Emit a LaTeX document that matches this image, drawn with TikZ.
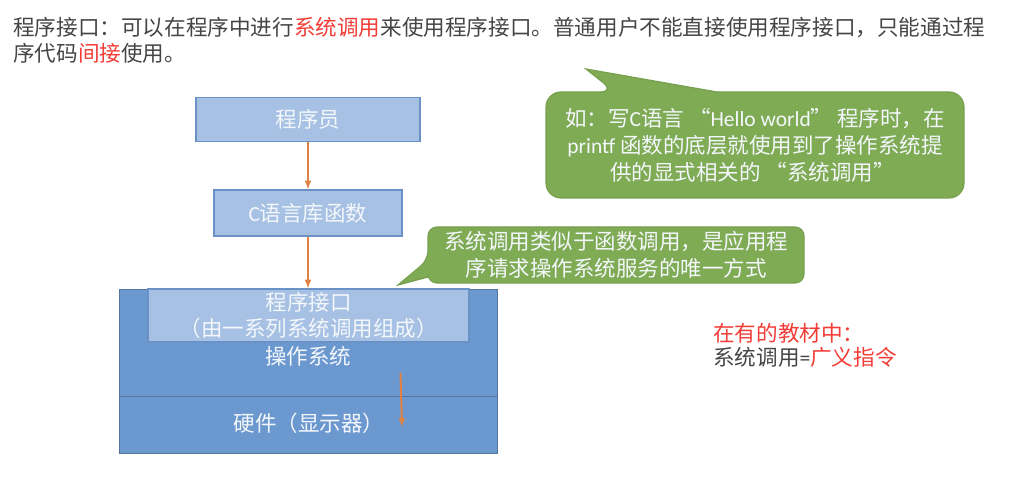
\documentclass[tikz,border=0pt]{standalone}
\usepackage{fontspec}
\usepackage{xcolor}
\usepackage{tikz}
\usetikzlibrary{arrows.meta}
\setmainfont{Noto Sans CJK SC}
\newfontfamily\latinfont{Carlito}
\newcommand{\zcolon}{\char"FF1A\relax}
\newcommand{\zcomma}{\char"FF0C\relax}
\newcommand{\zopen}{\char"FF08\relax}
\newcommand{\zclose}{\char"FF09\relax}
\newcommand{\zlq}{\kern5pt“}
\newcommand{\zrq}{”\kern5pt}
\definecolor{boxlight}{HTML}{A6C1E3}
\definecolor{boxdark}{HTML}{6C98D0}
\definecolor{boxline}{HTML}{6A92C6}
\definecolor{bubble}{HTML}{7FAB55}
\definecolor{bubbleline}{HTML}{76A04E}
\definecolor{flow}{HTML}{DF8244}
\definecolor{ink}{HTML}{454545}
\definecolor{hot}{HTML}{F23C36}
\definecolor{paper}{HTML}{F4F7FB}
\tikzset{>=latex}
\tikzstyle{txt} = [draw=none, inner sep=0, font=\fontsize{21.5}{27}\selectfont, text=paper, align=center]
\tikzstyle{note} = [draw=none, inner sep=0, font=\fontsize{21.6}{25}\selectfont, text=ink, anchor=west]
\tikzstyle{lightbox} = [draw=boxline, fill=boxlight, line width=1.2pt, inner sep=0, font=\fontsize{21.5}{26}\selectfont, text=paper, align=center]
\tikzstyle{darkbox} = [draw=boxline!80!black, fill=boxdark, line width=1pt, inner sep=0]
\tikzstyle{bubblepath} = [draw=bubbleline, fill=bubble, line width=1.2pt]
\tikzstyle{flowline} = [-latex, draw=flow, line width=2pt]

\begin{document}
\begin{tikzpicture}[x=1pt, y=-1pt]
\useasboundingbox (0, 0) rectangle (1024, 478);
% header
\node [note] (head1) at (13, 28) {程序接口\zcolon 可以在程序中进行\textcolor{hot}{系统调用}来使用程序接口。普通用户不能直接使用程序接口\zcomma 只能通过程};
\node [note] (head2) at (13, 53) {序代码\textcolor{hot}{间接}使用。};
% left stack
\node [lightbox, minimum width=224pt, minimum height=44pt] (coder) at (308, 119.5) {程序员};
\node [lightbox, minimum width=188pt, minimum height=46pt] (clib) at (308, 213) {{\latinfont C}语言库函数};
\node [darkbox, minimum width=378pt, minimum height=107pt] (os) at (308, 342.5) {};
\node [darkbox, minimum width=378pt, minimum height=57pt] (hw) at (308, 424.5) {};
\node [lightbox, minimum width=321pt, minimum height=53pt] (api) at (308.5, 315.5) {程序接口\\\zopen 由一系列系统调用组成\zclose};
\node [txt] (oslabel) at (308, 356) {操作系统};
\node [txt] (hwlabel) at (309, 423) {硬件\zopen 显示器\zclose};
\draw [flowline] (coder) to (clib);
\draw [flowline] (clib) to (clib |- api.north);
\coordinate (call) at (400.5, 373);
\coordinate (screen) at (402, 427);
\draw [flowline] (call) to (screen);
% speech bubbles
\draw [bubblepath, rounded corners=15pt] (717, 92) -- (964, 92) -- (964, 198) -- (546, 198) -- (546, 92) -- (615, 92) [sharp corners] -- (586, 69) -- cycle;
\node [txt] (hello) at (755, 145) {如\zcolon 写{\latinfont C}语言\zlq{\latinfont Hello world}\zrq 程序时\zcomma 在\\{\latinfont printf} 函数的底层就使用到了操作系统提\\供的显式相关的\zlq 系统调用\zrq};
\draw [bubblepath, rounded corners=9pt] (428, 277) -- (428, 283) -- (804, 283) -- (804, 227) -- (428, 227) -- (428, 260) [sharp corners] -- (398, 285) -- cycle;
\node [txt] (only) at (616, 255) {系统调用类似于函数调用\zcomma 是应用程\\序请求操作系统服务的唯一方式};
% side note
\node [note, text=hot] (side1) at (713, 333) {在有的教材中\zcolon};
\node [note] (side2) at (713, 357) {系统调用{\latinfont =}{\color{hot}广义指令}};
\end{tikzpicture}
\end{document}
